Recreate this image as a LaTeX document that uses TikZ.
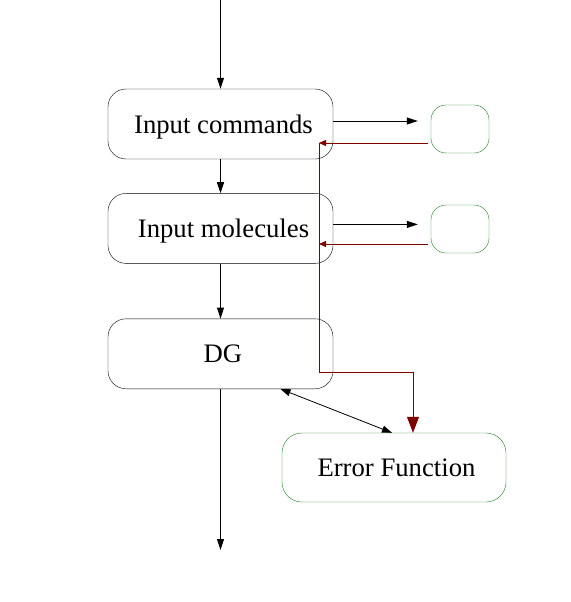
\documentclass[tikz,border=0pt]{standalone}
\usepackage{fontspec}
\setmainfont{Liberation Serif}
\usepackage{tikz}
\usetikzlibrary{arrows.meta,positioning,calc}
\definecolor{linkred}{RGB}{128,0,0}
\definecolor{boxgreen}{RGB}{34,128,34}

\begin{document}
\begin{tikzpicture}[x=1pt,y=-1pt,
  stage/.style={draw,rounded corners=18pt,minimum width=225pt,minimum height=70pt,inner sep=0pt,text height=18pt,text depth=0pt,align=center,font=\fontsize{26.7}{30}\selectfont},
  slot/.style={draw=boxgreen,rounded corners=15pt,minimum width=58pt,minimum height=48pt,inner sep=0pt},
  arr/.style={-{Triangle[length=11pt,width=7pt]},line width=0.8pt},
  back/.style={-{Triangle[length=7pt,width=6pt]},line width=0.8pt,linkred},
  dbl/.style={{Triangle[length=10pt,width=7pt]}-{Triangle[length=10pt,width=7pt]},line width=0.8pt}]
\useasboundingbox (0,0) rectangle (570,602);
\node[stage] (cmd) at (220.5,124) {\hspace*{6pt}Input commands};
\node[stage,below=34pt of cmd] (mol) {\hspace*{6pt}Input molecules};
\node[stage,below=55pt of mol] (dg) {\hspace*{5pt}DG};
\node[slot] (cmdout) at (460,129) {};
\node[slot] (molout) at (460,229) {};
\node[stage,draw=boxgreen,minimum width=224pt,minimum height=69pt,rounded corners=20pt] (err) at (394,467.5) {\hspace*{5pt}Error Function};
\coordinate (in) at (220.5,0);
\coordinate (out) at (220.5,550);
\coordinate (bus) at (319,143);
\coordinate (bend) at (413,372);
\coordinate (fb1) at ($(cmdout.west)+(-3pt,-14pt)$);
\coordinate (fb2) at ($(molout.west)+(-3pt,-15pt)$);
% main column
\draw[arr] (in) -- (cmd);
\draw[arr] (cmd) -- (mol);
\draw[arr] (mol) -- (dg);
\draw[arr] (dg) -- (out);
% outputs and feedback
\draw[arr,shorten >=13pt] ([yshift=3pt]cmd.east) -- ([yshift=3pt]cmd.east -| cmdout.west);
\draw[arr,shorten >=13pt] ([yshift=4pt]mol.east) -- ([yshift=4pt]mol.east -| molout.west);
\draw[back] (fb1) -- (fb1 -| bus);
\draw[back] (fb2) -- (fb2 -| bus);
\draw[linkred,line width=0.8pt,-{Triangle[length=16pt,width=12pt]}] (bus) |- (bend) -- (bend |- err.north);
\draw[dbl] ([xshift=60pt]dg.south) -- ([xshift=-2pt]err.north);
\end{tikzpicture}
\end{document}
